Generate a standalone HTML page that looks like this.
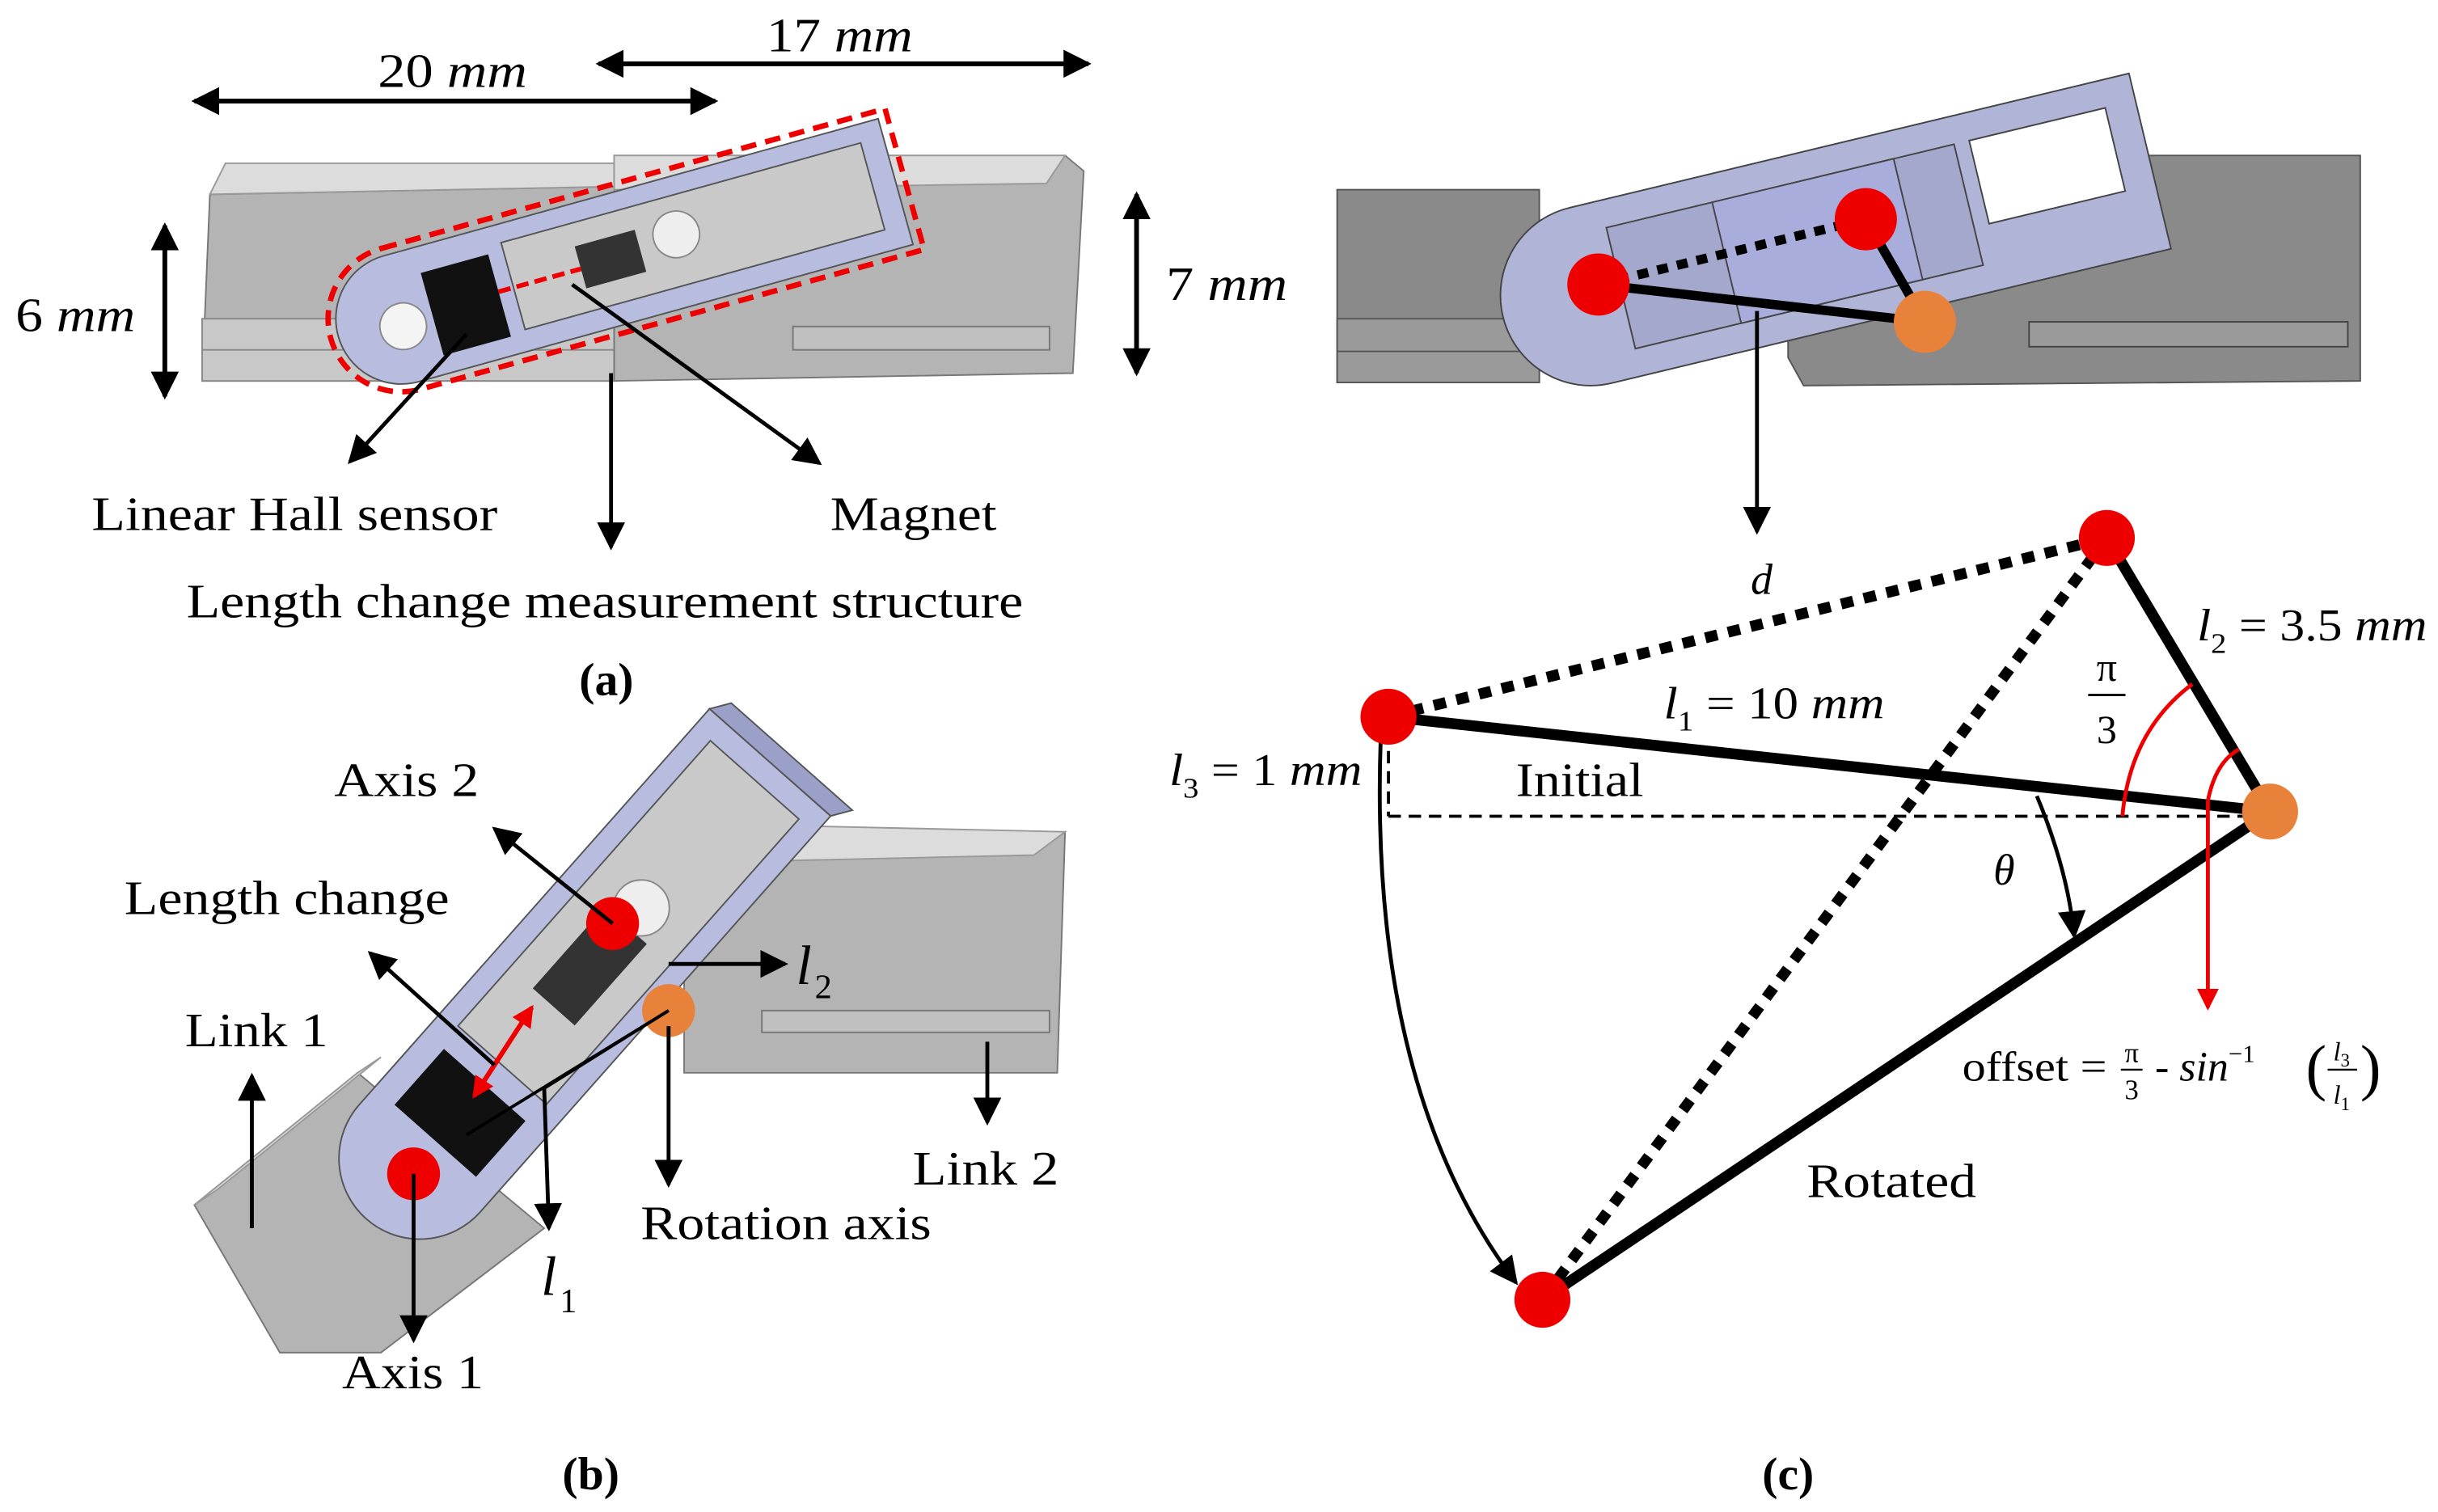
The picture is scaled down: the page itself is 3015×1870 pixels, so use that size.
<!DOCTYPE html>
<html><head><meta charset="utf-8"><style>
html,body{margin:0;padding:0;background:#fff}
svg{display:block}
text{font-family:"Liberation Serif",serif;fill:#000}
.i{font-style:italic}
</style></head><body>
<svg width="3015" height="1870" viewBox="0 0 1568 972.5" xmlns="http://www.w3.org/2000/svg">
<defs>
<marker id="ahb" markerWidth="18" markerHeight="18" refX="16" refY="9" orient="auto" markerUnits="userSpaceOnUse" viewBox="0 0 18 18"><path d="M0,0 L18,9 L0,18 z" fill="#000"/></marker>
<marker id="ahr" markerWidth="14" markerHeight="14" refX="12" refY="7" orient="auto" markerUnits="userSpaceOnUse" viewBox="0 0 14 14"><path d="M0,0 L14,7 L0,14 z" fill="#e00"/></marker>
</defs>

<!-- ===== Panel (a) ===== -->
<polygon points="135,125 395,120 395,245 130,245" fill="#b4b4b4" stroke="#777"/>
<polygon points="135,125 145,105 395,105 395,120" fill="#dcdcdc" stroke="#999"/>
<rect x="130" y="205" width="265" height="40" fill="#c8c8c8" stroke="#888"/>
<line x1="130" y1="225" x2="395" y2="225" stroke="#888"/>
<polygon points="395,100 685,100 697,110 690,240 395,245" fill="#b4b4b4" stroke="#777"/>
<polygon points="395,100 685,100 673,118 395,122" fill="#dcdcdc" stroke="#999"/>
<rect x="510" y="210" width="165" height="15" fill="#c0c0c0" stroke="#777"/>
<g transform="translate(258,205) rotate(-15.5)">
<path d="M0,-42 H330 V42 H0 A42,42 0 0 1 0,-42 Z" fill="#b8bde0" stroke="#555"/>
<rect x="75" y="-30" width="240" height="58" fill="#c9c9c9" stroke="#555"/>
<rect x="20" y="-25" width="45" height="55" fill="#111"/>
<rect x="120" y="-15" width="40" height="28" fill="#333"/>
<circle cx="185" cy="-5" r="15" fill="#eee" stroke="#888"/>
<circle cx="0" cy="5" r="15" fill="#f4f4f4" stroke="#888"/>
<path d="M0,-47 H336 V47 H0 A47,47 0 0 1 0,-47 Z" fill="none" stroke="#e00" stroke-width="3.5" stroke-dasharray="10,6"/>
<line x1="65" y1="0" x2="120" y2="0" stroke="#e00" stroke-width="3" stroke-dasharray="8,4"/>
</g>
<line x1="130" y1="65" x2="460" y2="65" stroke="#000" stroke-width="3" marker-end="url(#ahb)"/>
<line x1="455" y1="65" x2="125" y2="65" stroke="#000" stroke-width="3" marker-end="url(#ahb)"/>
<line x1="390" y1="41" x2="700" y2="41" stroke="#000" stroke-width="3" marker-end="url(#ahb)"/>
<line x1="695" y1="41" x2="385" y2="41" stroke="#000" stroke-width="3" marker-end="url(#ahb)"/>
<line x1="106" y1="150" x2="106" y2="255" stroke="#000" stroke-width="3" marker-end="url(#ahb)"/>
<line x1="106" y1="250" x2="106" y2="145" stroke="#000" stroke-width="3" marker-end="url(#ahb)"/>
<line x1="731" y1="130" x2="731" y2="240" stroke="#000" stroke-width="3" marker-end="url(#ahb)"/>
<line x1="731" y1="235" x2="731" y2="125" stroke="#000" stroke-width="3" marker-end="url(#ahb)"/>
<text x="243" y="56" font-size="31" textLength="96" lengthAdjust="spacingAndGlyphs">20 <tspan class="i">mm</tspan></text>
<text x="493" y="33" font-size="31" textLength="94" lengthAdjust="spacingAndGlyphs">17 <tspan class="i">mm</tspan></text>
<text x="10" y="213" font-size="31" textLength="77" lengthAdjust="spacingAndGlyphs">6 <tspan class="i">mm</tspan></text>
<text x="750" y="193" font-size="31" textLength="78" lengthAdjust="spacingAndGlyphs">7 <tspan class="i">mm</tspan></text>
<line x1="300" y1="215" x2="225" y2="297" stroke="#000" stroke-width="2.5" marker-end="url(#ahb)"/>
<line x1="368" y1="183" x2="527" y2="298" stroke="#000" stroke-width="2.5" marker-end="url(#ahb)"/>
<line x1="393" y1="240" x2="393" y2="352" stroke="#000" stroke-width="2.5" marker-end="url(#ahb)"/>
<text x="59" y="341" font-size="31" textLength="261" lengthAdjust="spacingAndGlyphs">Linear Hall sensor</text>
<text x="534" y="341" font-size="31" textLength="107" lengthAdjust="spacingAndGlyphs">Magnet</text>
<text x="120" y="397" font-size="31" textLength="538" lengthAdjust="spacingAndGlyphs">Length change measurement structure</text>
<text x="390" y="447" font-size="30" font-weight="bold" text-anchor="middle">(a)</text>

<!-- ===== Panel (b) ===== -->
<polygon points="440,555 665,540 685,535 680,690 440,690" fill="#b4b4b4" stroke="#777"/>
<polygon points="440,555 460,530 685,535 665,550" fill="#dcdcdc" stroke="#999"/>
<rect x="490" y="650" width="185" height="14" fill="#c0c0c0" stroke="#777"/>
<polygon points="125,775 230,690 350,790 245,870 180,870" fill="#b4b4b4" stroke="#777"/>
<polygon points="125,775 140,765 245,680 230,690" fill="#dcdcdc" stroke="#999"/>
<g transform="translate(270,745) rotate(-48.5)">
<path d="M0,-52 H340 V52 H0 A52,52 0 0 1 0,-52 Z" fill="#b8bde0" stroke="#555"/>
<polygon points="340,-52 352,-44 352,60 340,52" fill="#9aa0c8" stroke="#555"/>
<rect x="80" y="-38" width="245" height="76" fill="#c9c9c9" stroke="#555"/>
<rect x="15" y="-35" width="48" height="70" fill="#111"/>
<rect x="130" y="-18" width="70" height="36" fill="#333"/>
<circle cx="215" cy="0" r="18" fill="#eee" stroke="#888"/>
</g>
<line x1="305" y1="705" x2="342" y2="648" stroke="#e00" stroke-width="3" marker-end="url(#ahr)"/>
<line x1="342" y1="648" x2="305" y2="705" stroke="#e00" stroke-width="3" marker-end="url(#ahr)"/>
<circle cx="394" cy="594" r="17" fill="#e00"/>
<circle cx="430" cy="650" r="17" fill="#e8823a"/>
<circle cx="266" cy="755" r="17" fill="#e00"/>
<line x1="266" y1="755" x2="266" y2="862" stroke="#000" stroke-width="2.5" marker-end="url(#ahb)"/>
<line x1="394" y1="594" x2="318" y2="533" stroke="#000" stroke-width="2.5" marker-end="url(#ahb)"/>
<line x1="318" y1="685" x2="238" y2="613" stroke="#000" stroke-width="2.5" marker-end="url(#ahb)"/>
<line x1="430" y1="650" x2="300" y2="730" stroke="#000" stroke-width="2"/>
<line x1="430" y1="650" x2="350" y2="700" stroke="#000" stroke-width="2"/>
<line x1="350" y1="700" x2="353" y2="790" stroke="#000" stroke-width="2.5" marker-end="url(#ahb)"/>
<line x1="430" y1="620" x2="505" y2="620" stroke="#000" stroke-width="2.5" marker-end="url(#ahb)"/>
<line x1="430" y1="660" x2="430" y2="762" stroke="#000" stroke-width="2.5" marker-end="url(#ahb)"/>
<line x1="635" y1="670" x2="635" y2="722" stroke="#000" stroke-width="2.5" marker-end="url(#ahb)"/>
<line x1="162" y1="790" x2="162" y2="692" stroke="#000" stroke-width="2.5" marker-end="url(#ahb)"/>
<text x="215" y="512" font-size="31" textLength="93" lengthAdjust="spacingAndGlyphs">Axis 2</text>
<text x="80" y="588" font-size="31" textLength="209" lengthAdjust="spacingAndGlyphs">Length change</text>
<text x="119" y="673" font-size="31" textLength="92" lengthAdjust="spacingAndGlyphs">Link 1</text>
<text x="512" y="633" font-size="36" class="i">l</text><text x="524" y="642" font-size="22">2</text>
<text x="587" y="762" font-size="31" textLength="94" lengthAdjust="spacingAndGlyphs">Link 2</text>
<text x="412" y="797" font-size="31" textLength="187" lengthAdjust="spacingAndGlyphs">Rotation axis</text>
<text x="348" y="833" font-size="36" class="i">l</text><text x="360" y="844" font-size="22">1</text>
<text x="220" y="893" font-size="31" textLength="91" lengthAdjust="spacingAndGlyphs">Axis 1</text>
<text x="380" y="958" font-size="30" font-weight="bold" text-anchor="middle">(b)</text>

<!-- ===== Panel (c) top picture ===== -->
<polygon points="860,122 990,122 990,246 860,246" fill="#8a8a8a" stroke="#555"/>
<rect x="860" y="205" width="130" height="41" fill="#9a9a9a" stroke="#555"/>
<line x1="860" y1="226" x2="990" y2="226" stroke="#555"/>
<polygon points="1150,100 1518,100 1518,245 1160,248 1150,230" fill="#8a8a8a" stroke="#555"/>
<rect x="1305" y="207" width="205" height="16" fill="#9a9a9a" stroke="#444"/>
<g transform="translate(1023,190) rotate(-13.5)">
<path d="M0,-58 H370 V58 H0 A58,58 0 0 1 0,-58 Z" fill="#b0b5d8" stroke="#444"/>
<rect x="20" y="-40" width="230" height="80" fill="#a3a8cc" stroke="#444"/>
<rect x="90" y="-40" width="120" height="80" fill="#a8addc" stroke="#444"/>
<rect x="260" y="-40" width="90" height="55" fill="#fff" stroke="#444"/>
</g>
<line x1="1028" y1="183" x2="1200" y2="141" stroke="#000" stroke-width="6" stroke-dasharray="7,6"/>
<line x1="1028" y1="183" x2="1238" y2="207" stroke="#000" stroke-width="6"/>
<line x1="1200" y1="141" x2="1238" y2="207" stroke="#000" stroke-width="6"/>
<circle cx="1028" cy="183" r="20" fill="#e00"/>
<circle cx="1200" cy="141" r="20" fill="#e00"/>
<circle cx="1238" cy="207" r="20" fill="#e8823a"/>
<line x1="1130" y1="200" x2="1130" y2="342" stroke="#000" stroke-width="2.5" marker-end="url(#ahb)"/>

<!-- ===== Panel (c) diagram ===== -->
<path d="M893,525 L1458,525 M893,470 L893,525" stroke="#000" stroke-width="2" stroke-dasharray="8,5" fill="none"/>
<line x1="893" y1="461" x2="1355" y2="346" stroke="#000" stroke-width="7" stroke-dasharray="8,7"/>
<line x1="1355" y1="346" x2="992" y2="836" stroke="#000" stroke-width="7" stroke-dasharray="8,7"/>
<line x1="893" y1="461" x2="1460" y2="522" stroke="#000" stroke-width="7"/>
<line x1="1355" y1="346" x2="1460" y2="522" stroke="#000" stroke-width="7"/>
<line x1="1460" y1="522" x2="992" y2="836" stroke="#000" stroke-width="7"/>
<path d="M888,475 Q880,700 975,825" stroke="#000" stroke-width="2.5" fill="none" marker-end="url(#ahb)"/>
<path d="M1310,512 Q1330,560 1334,602" stroke="#000" stroke-width="2.5" fill="none" marker-end="url(#ahb)"/>
<path d="M1365,525 Q1370,470 1410,440" stroke="#e00" stroke-width="2.5" fill="none"/>
<path d="M1420,515 Q1425,490 1440,482" stroke="#e00" stroke-width="2.5" fill="none"/>
<line x1="1420" y1="515" x2="1420" y2="648" stroke="#e00" stroke-width="2.5" marker-end="url(#ahr)"/>
<circle cx="893" cy="461" r="18" fill="#e00"/>
<circle cx="1355" cy="346" r="18" fill="#e00"/>
<circle cx="992" cy="836" r="18" fill="#e00"/>
<circle cx="1460" cy="522" r="18" fill="#e8823a"/>
<text x="1126" y="382" font-size="28" class="i">d</text>
<text x="1413" y="412" font-size="29" textLength="148" lengthAdjust="spacingAndGlyphs"><tspan class="i">l</tspan><tspan font-size="18" dy="8">2</tspan><tspan dy="-8"> = 3.5 </tspan><tspan class="i">mm</tspan></text>
<text x="1355" y="438" font-size="26" text-anchor="middle">π</text>
<line x1="1343" y1="447" x2="1367" y2="447" stroke="#000" stroke-width="1.5"/>
<text x="1355" y="478" font-size="26" text-anchor="middle">3</text>
<text x="1070" y="462" font-size="29" textLength="142" lengthAdjust="spacingAndGlyphs"><tspan class="i">l</tspan><tspan font-size="18" dy="8">1</tspan><tspan dy="-8"> = 10 </tspan><tspan class="i">mm</tspan></text>
<text x="752" y="505" font-size="29" textLength="124" lengthAdjust="spacingAndGlyphs"><tspan class="i">l</tspan><tspan font-size="18" dy="8">3</tspan><tspan dy="-8"> = 1 </tspan><tspan class="i">mm</tspan></text>
<text x="975" y="512" font-size="31" textLength="82" lengthAdjust="spacingAndGlyphs">Initial</text>
<text x="1282" y="569" font-size="28" class="i">θ</text>
<text x="1262" y="695" font-size="27" textLength="93" lengthAdjust="spacingAndGlyphs">offset =</text>
<text x="1371" y="683" font-size="18" text-anchor="middle">π</text>
<line x1="1364" y1="688" x2="1378" y2="688" stroke="#000" stroke-width="1.2"/>
<text x="1371" y="707" font-size="18" text-anchor="middle">3</text>
<text x="1386" y="695" font-size="27">- <tspan class="i">sin</tspan><tspan font-size="16" dy="-12">−1</tspan></text>
<text x="1483" y="700" font-size="40">(</text>
<text x="1506" y="682" font-size="17" text-anchor="middle"><tspan class="i">l</tspan><tspan font-size="12" dy="4">3</tspan></text>
<line x1="1497" y1="688" x2="1516" y2="688" stroke="#000" stroke-width="1.2"/>
<text x="1506" y="710" font-size="17" text-anchor="middle"><tspan class="i">l</tspan><tspan font-size="12" dy="4">1</tspan></text>
<text x="1518" y="700" font-size="40">)</text>
<text x="1162" y="770" font-size="31" textLength="109" lengthAdjust="spacingAndGlyphs">Rotated</text>
<text x="1150" y="958" font-size="30" font-weight="bold" text-anchor="middle">(c)</text>
</svg>
</body></html>
